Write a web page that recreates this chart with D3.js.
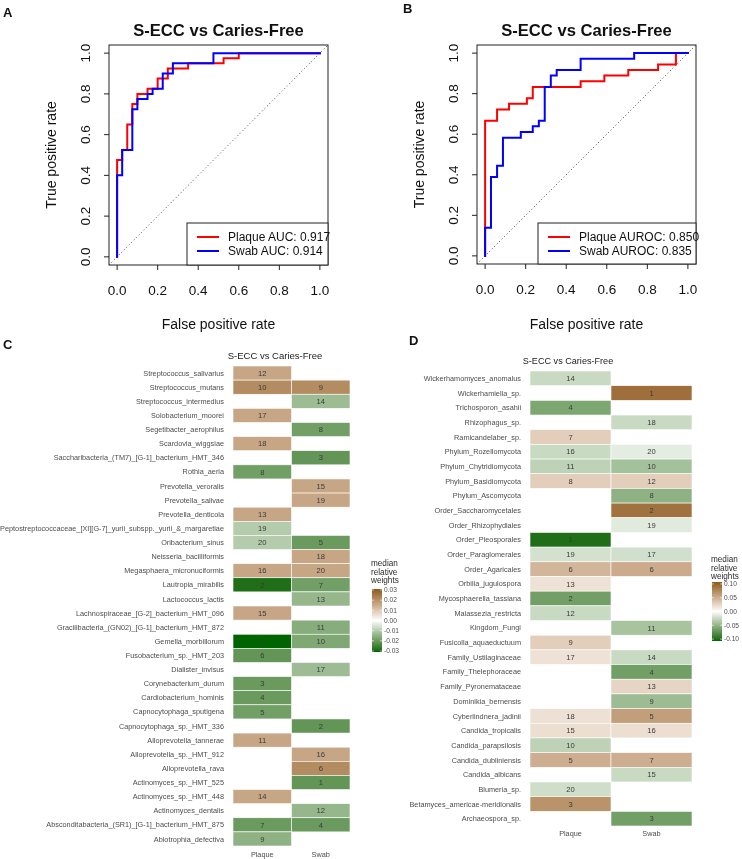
<!DOCTYPE html>
<html><head><meta charset="utf-8">
<script src="https://cdn.jsdelivr.net/npm/d3@7"></script>
<style>
body{margin:0;background:#fff;}
svg{display:block;font-family:"Liberation Sans",Arial,Helvetica,sans-serif;will-change:transform;-webkit-font-smoothing:antialiased;}
</style></head>
<body>
<svg id="fig" width="742" height="859"></svg>
<script>
// ---------- ROC data (panel A) ----------
const rocAPlaqueFpr = [0,0,0.025,0.025,0.05,0.05,0.075,0.075,0.1,0.1,0.15,0.15,0.2,0.2,0.25,0.25,0.35,0.35,0.525,0.525,0.6,0.6,1];
const rocAPlaqueTpr = [0,0.475,0.475,0.525,0.525,0.65,0.65,0.75,0.75,0.8,0.8,0.825,0.825,0.875,0.875,0.925,0.925,0.95,0.95,0.975,0.975,1,1];
const rocASwabFpr = [0,0,0.025,0.025,0.075,0.075,0.1,0.1,0.15,0.15,0.175,0.175,0.225,0.225,0.275,0.275,0.475,0.475,1];
const rocASwabTpr = [0,0.4,0.4,0.525,0.525,0.725,0.725,0.775,0.775,0.8,0.8,0.825,0.825,0.9,0.9,0.95,0.95,1,1];
const rocALegend = ["Plaque AUC: 0.917","Swab AUC: 0.914"];
// ---------- ROC data (panel B) ----------
const rocBPlaqueFpr = [0,0,0.059,0.059,0.118,0.118,0.206,0.206,0.235,0.235,0.471,0.471,0.588,0.588,0.706,0.706,0.853,0.853,0.941,0.941,1];
const rocBPlaqueTpr = [0,0.667,0.667,0.722,0.722,0.75,0.75,0.778,0.778,0.833,0.833,0.861,0.861,0.889,0.889,0.917,0.917,0.944,0.944,1,1];
const rocBSwabFpr = [0,0,0.029,0.029,0.059,0.059,0.088,0.088,0.176,0.176,0.235,0.235,0.265,0.265,0.294,0.294,0.324,0.324,0.353,0.353,0.471,0.471,0.735,0.735,1];
const rocBSwabTpr = [0,0.139,0.139,0.389,0.389,0.444,0.444,0.583,0.583,0.611,0.611,0.639,0.639,0.667,0.667,0.833,0.833,0.889,0.889,0.917,0.917,0.972,0.972,1,1];
const rocBLegend = ["Plaque AUROC: 0.850","Swab AUROC: 0.835"];
const rocTicks = [0,0.2,0.4,0.6,0.8,1.0];
const rocTitle = "S-ECC vs Caries-Free";

// ---------- Heatmap C (bacteria) ----------
const cRows = ["Streptococcus_salivarius","Streptococcus_mutans","Streptococcus_intermedius","Solobacterium_moorei","Segetibacter_aerophilus","Scardovia_wiggsiae","Saccharibacteria_(TM7)_[G-1]_bacterium_HMT_346","Rothia_aeria","Prevotella_veroralis","Prevotella_salivae","Prevotella_denticola","Peptostreptococcaceae_[XI][G-7]_yurii_subspp._yurii_&_margaretiae","Oribacterium_sinus","Neisseria_bacilliformis","Megasphaera_micronuciformis","Lautropia_mirabilis","Lactococcus_lactis","Lachnospiraceae_[G-2]_bacterium_HMT_096","Gracilibacteria_(GN02)_[G-1]_bacterium_HMT_872","Gemella_morbillorum","Fusobacterium_sp._HMT_203","Dialister_invisus","Corynebacterium_durum","Cardiobacterium_hominis","Capnocytophaga_sputigena","Capnocytophaga_sp._HMT_336","Alloprevotella_tannerae","Alloprevotella_sp._HMT_912","Alloprevotella_rava","Actinomyces_sp._HMT_525","Actinomyces_sp._HMT_448","Actinomyces_dentalis","Absconditabacteria_(SR1)_[G-1]_bacterium_HMT_875","Abiotrophia_defectiva"];
const cPlaqueVal = [0.016,0.021,null,0.016,null,0.016,null,-0.019,null,null,0.016,-0.010,-0.010,null,0.016,-0.029,null,0.016,null,-0.031,-0.021,null,-0.020,-0.020,-0.019,null,0.016,null,null,null,0.016,null,-0.020,-0.015];
const cPlaqueRank = [12,10,null,17,null,18,null,8,null,null,13,19,20,null,16,2,null,15,null,1,6,null,3,4,5,null,11,null,null,null,14,null,7,9];
const cSwabVal = [null,0.021,-0.013,null,-0.019,null,-0.021,null,0.016,0.016,null,null,-0.020,0.016,0.016,-0.019,-0.014,null,-0.016,-0.017,null,-0.013,null,null,null,-0.021,null,0.016,0.021,-0.021,null,-0.014,-0.020,null];
const cSwabRank = [null,9,14,null,8,null,3,null,15,19,null,null,5,18,20,7,13,null,11,10,null,17,null,null,null,2,null,16,6,1,null,12,4,null];
const cLegendTicks = [0.03,0.02,0.01,0.00,-0.01,-0.02,-0.03];

// ---------- Heatmap D (fungi) ----------
const dRows = ["Wickerhamomyces_anomalus","Wickerhamiella_sp.","Trichosporon_asahii","Rhizophagus_sp.","Ramicandelaber_sp.","Phylum_Rozellomycota","Phylum_Chytridiomycota","Phylum_Basidiomycota","Phylum_Ascomycota","Order_Saccharomycetales","Order_Rhizophydiales","Order_Pleosporales","Order_Paraglomerales","Order_Agaricales","Orbilia_jugulospora","Mycosphaerella_tassiana","Malassezia_restricta","Kingdom_Fungi","Fusicolla_aquaeductuum","Family_Ustilaginaceae","Family_Thelephoraceae","Family_Pyronemataceae","Dominikia_bernensis","Cyberlindnera_jadinii","Candida_tropicalis","Candida_parapsilosis","Candida_dubliniensis","Candida_albicans","Blumeria_sp.","Betamyces_americae-meridionalis","Archaeospora_sp."];
const dPlaqueVal = [-0.025,null,-0.060,null,0.030,-0.025,-0.030,0.030,null,null,null,-0.100,-0.020,0.045,0.018,-0.065,-0.025,null,0.030,0.018,null,null,null,0.019,0.020,-0.030,0.050,null,-0.022,0.068,null];
const dPlaqueRank = [14,null,4,null,7,16,11,8,null,null,null,1,19,6,13,2,12,null,9,17,null,null,null,18,15,10,5,null,20,3,null];
const dSwabVal = [null,0.092,null,-0.025,null,-0.012,-0.042,0.030,-0.052,0.090,-0.014,null,-0.021,0.052,null,null,null,-0.040,null,-0.025,-0.065,0.026,-0.045,0.060,0.020,null,0.050,-0.025,null,null,-0.065];
const dSwabRank = [null,1,null,18,null,20,10,12,8,2,19,null,17,6,null,null,null,11,null,14,4,13,9,5,16,null,7,15,null,null,3];
const dLegendTicks = [0.10,0.05,0.00,-0.05,-0.10];

const sampleCols = ["Plaque","Swab"];
const heatTitle = "S-ECC vs Caries-Free";
const legendTitle = ["median","relative","weights"];

const svg = d3.select("#fig");

// ---------- ROC panel ----------
function rocPanel(o){
  const g = svg.append("g");
  const x = d3.scaleLinear().domain([-0.04,1.04]).range([o.left,o.right]);
  const y = d3.scaleLinear().domain([-0.04,1.04]).range([o.bottom,o.top]);
  const cid = "clip"+o.id;
  g.append("clipPath").attr("id",cid).append("rect")
    .attr("x",o.left).attr("y",o.top).attr("width",o.right-o.left).attr("height",o.bottom-o.top);
  g.append("line").attr("clip-path",`url(#${cid})`)
    .attr("x1",x(-0.04)).attr("y1",y(-0.04)).attr("x2",x(1.04)).attr("y2",y(1.04))
    .attr("stroke","#444").attr("stroke-width",1).attr("stroke-dasharray","1,2.5");
  const line = d3.line().x(d=>x(d[0])).y(d=>y(d[1]));
  o.series.forEach(s=>{
    const pts = s.fpr.map((f,i)=>[f,s.tpr[i]]);
    g.append("path").attr("d",line(pts)).attr("fill","none")
      .attr("stroke",s.color).attr("stroke-width",2).attr("stroke-linejoin","miter").attr("stroke-linecap","square");
  });
  g.append("rect").attr("x",o.left).attr("y",o.top).attr("width",o.right-o.left).attr("height",o.bottom-o.top)
    .attr("fill","none").attr("stroke","#222").attr("stroke-width",1);
  rocTicks.forEach(t=>{
    g.append("line").attr("x1",x(t)).attr("x2",x(t)).attr("y1",o.bottom).attr("y2",o.bottom+5).attr("stroke","#222");
    g.append("text").attr("x",x(t)).attr("y",o.bottom+30).attr("text-anchor","middle")
      .attr("font-size",13.5).attr("fill","#111").text(t.toFixed(1));
    g.append("line").attr("y1",y(t)).attr("y2",y(t)).attr("x1",o.left).attr("x2",o.left-5).attr("stroke","#222");
    g.append("text").attr("transform",`translate(${o.left-19},${y(t)}) rotate(-90)`).attr("text-anchor","middle")
      .attr("font-size",13.5).attr("fill","#111").text(t.toFixed(1));
  });
  g.append("text").attr("x",(o.left+o.right)/2).attr("y",36).attr("text-anchor","middle")
    .attr("font-size",16.6).attr("font-weight","bold").attr("fill","#111").text(rocTitle);
  g.append("text").attr("x",(o.left+o.right)/2).attr("y",329).attr("text-anchor","middle")
    .attr("font-size",14).attr("fill","#111").text("False positive rate");
  g.append("text").attr("transform",`translate(${o.left-53},${(o.top+o.bottom)/2}) rotate(-90)`).attr("text-anchor","middle")
    .attr("font-size",14).attr("fill","#111").text("True positive rate");
  g.append("rect").attr("x",o.legX).attr("y",223).attr("width",o.right-o.legX).attr("height",o.bottom-223)
    .attr("fill","#fff").attr("stroke","#222").attr("stroke-width",1);
  o.series.forEach((s,i)=>{
    const ly = 237+i*14;
    g.append("line").attr("x1",o.legX+10).attr("x2",o.legX+32).attr("y1",ly).attr("y2",ly)
      .attr("stroke",s.color).attr("stroke-width",2);
    g.append("text").attr("x",o.legX+41).attr("y",ly+4.3).attr("font-size",12).attr("fill","#111").text(o.legend[i]);
  });
  g.append("text").attr("x",o.letterX).attr("y",o.letterY).attr("font-size",13).attr("font-weight","bold").attr("fill","#111").text(o.letter);
}

rocPanel({id:"A",left:109,right:328,top:45,bottom:265,legX:187,letter:"A",letterX:3,letterY:17,legend:rocALegend,
  series:[{fpr:rocAPlaqueFpr,tpr:rocAPlaqueTpr,color:"#ff0000"},{fpr:rocASwabFpr,tpr:rocASwabTpr,color:"#0000ff"}]});
rocPanel({id:"B",left:477,right:696,top:45,bottom:264,legX:538,letter:"B",letterX:403,letterY:13,legend:rocBLegend,
  series:[{fpr:rocBPlaqueFpr,tpr:rocBPlaqueTpr,color:"#ff0000"},{fpr:rocBSwabFpr,tpr:rocBSwabTpr,color:"#0000ff"}]});

// ---------- Heatmap panel ----------
function heatPanel(o){
  const g = svg.append("g");
  const color = d3.scaleLinear().domain([-o.lim,0,o.lim]).range(["#006400","#ffffff","#8c5a1a"])
    .interpolate(d3.interpolateLab).clamp(true);
  const y = d3.scaleBand().domain(o.rows).range([o.top,o.bottom]).padding(0);
  const x = d3.scaleBand().domain(sampleCols).range([o.left,o.right]).padding(0);
  const cells = [];
  o.rows.forEach((r,i)=>{
    cells.push({row:r,col:"Plaque",v:o.pv[i],rank:o.pr[i]});
    cells.push({row:r,col:"Swab",v:o.sv[i],rank:o.sr[i]});
  });
  const filled = cells.filter(c=>c.v!==null);
  g.selectAll("rect.cell").data(filled).join("rect").attr("class","cell")
    .attr("x",d=>x(d.col)).attr("y",d=>y(d.row)).attr("width",x.bandwidth()).attr("height",y.bandwidth())
    .attr("fill",d=>color(d.v)).attr("stroke","#ffffff").attr("stroke-width",0.6);
  g.selectAll("text.num").data(filled).join("text").attr("class","num")
    .attr("x",d=>x(d.col)+x.bandwidth()/2).attr("y",d=>y(d.row)+y.bandwidth()/2+2.7)
    .attr("text-anchor","middle").attr("font-size",7.6).attr("fill","#3a3a3a").text(d=>d.rank);
  g.selectAll("text.rowlab").data(o.rows).join("text").attr("class","rowlab")
    .attr("x",o.left-9).attr("y",d=>y(d)+y.bandwidth()/2+2.6).attr("text-anchor","end")
    .attr("font-size",7.3).attr("fill","#4d4d4d").text(d=>d);
  sampleCols.forEach(c=>{
    g.append("text").attr("x",x(c)+x.bandwidth()/2).attr("y",o.colY).attr("text-anchor","middle")
      .attr("font-size",7.3).attr("fill","#4d4d4d").text(c);
  });
  g.append("text").attr("x",o.titleX).attr("y",o.titleY).attr("text-anchor","middle")
    .attr("font-size",o.titleSize).attr("fill","#222").text(heatTitle);
  legendTitle.forEach((t,i)=>{
    g.append("text").attr("x",o.legX-1).attr("y",o.legTitleY+i*8.5).attr("font-size",8.2).attr("fill","#2a2a2a").text(t);
  });
  const ly = d3.scaleLinear().domain([-o.lim,o.lim]).range([o.legBottom,o.legTop]);
  const gid = "grad"+o.id;
  const grad = g.append("defs").append("linearGradient").attr("id",gid)
    .attr("x1",0).attr("y1",1).attr("x2",0).attr("y2",0);
  d3.range(0,1.0001,0.05).forEach(f=>{
    grad.append("stop").attr("offset",f).attr("stop-color",color(-o.lim+2*o.lim*f));
  });
  g.append("rect").attr("x",o.legX).attr("y",o.legTop).attr("width",10).attr("height",o.legBottom-o.legTop)
    .attr("fill",`url(#${gid})`);
  o.ticks.forEach(t=>{
    g.append("line").attr("x1",o.legX).attr("x2",o.legX+2).attr("y1",ly(t)).attr("y2",ly(t)).attr("stroke","#fff").attr("stroke-width",0.6);
    g.append("line").attr("x1",o.legX+8).attr("x2",o.legX+10).attr("y1",ly(t)).attr("y2",ly(t)).attr("stroke","#fff").attr("stroke-width",0.6);
    g.append("text").attr("x",o.legX+12).attr("y",ly(t)+2.3).attr("font-size",6.6).attr("fill","#4d4d4d").text(t.toFixed(2));
  });
  g.append("text").attr("x",o.letterX).attr("y",o.letterY).attr("font-size",13).attr("font-weight","bold").attr("fill","#111").text(o.letter);
}

heatPanel({id:"C",rows:cRows,pv:cPlaqueVal,pr:cPlaqueRank,sv:cSwabVal,sr:cSwabRank,lim:0.031,
  left:233,right:350,top:366,bottom:846,colY:857,titleX:275,titleY:359,titleSize:9.5,
  legX:372,legTop:589,legBottom:652,legTitleY:566,ticks:cLegendTicks,letter:"C",letterX:3,letterY:349});
heatPanel({id:"D",rows:dRows,pv:dPlaqueVal,pr:dPlaqueRank,sv:dSwabVal,sr:dSwabRank,lim:0.107,
  left:530,right:692,top:371,bottom:826,colY:836,titleX:568,titleY:364,titleSize:9.1,
  legX:712,legTop:582,legBottom:641,legTitleY:562,ticks:dLegendTicks,letter:"D",letterX:409,letterY:345});
</script>
</body></html>
